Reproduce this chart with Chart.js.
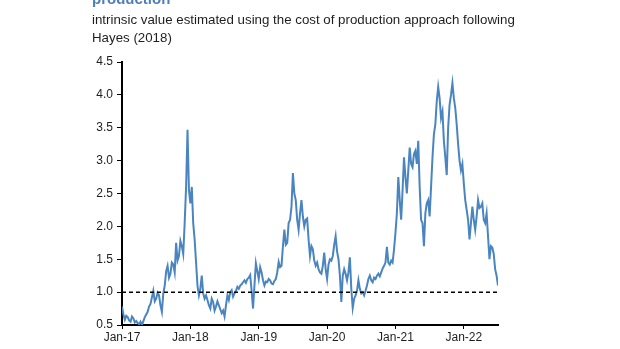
<!DOCTYPE html>
<html lang="en">

<head>
    <meta charset="UTF-8">
    <title>Intrinsic value - cost of production</title>
    <script src="https://cdn.jsdelivr.net/npm/chart.js@4/dist/chart.umd.min.js"></script>
    <style>
        html, body { margin: 0; padding: 0; background: #fff; }
        #wrap { position: relative; width: 620px; height: 349px; overflow: hidden; }
    </style>
</head>

<body>
    <div id="wrap">
        <canvas id="ratioChart" width="620" height="349"></canvas>
    </div>
    <script>
        // Ratio series, four readings per month starting Jan 2017
        const ratio2017 = [
            0.78, 0.66, 0.58, 0.64, 0.62, 0.57, 0.55, 0.63, 0.60, 0.54, 0.56, 0.53,
            0.51, 0.55, 0.50, 0.56, 0.62, 0.66, 0.70, 0.78, 0.82, 0.92, 1.02, 0.86,
            0.90, 0.99, 0.95, 0.80, 0.70, 0.98, 1.10, 1.32, 1.40, 1.22, 1.28, 1.45,
            1.42, 1.30, 1.75, 1.48, 1.55, 1.78, 1.70, 1.58, 2.05, 2.60, 3.47, 2.55
        ];
        const ratio2018 = [
            2.35, 2.60, 2.05, 1.80, 1.45, 1.10, 0.95, 1.05, 1.25, 0.98, 0.90, 0.95,
            0.88, 0.80, 0.75, 0.90, 0.85, 0.72, 0.78, 0.86, 0.80, 0.74, 0.68, 0.72,
            0.63, 0.80, 0.95, 0.88, 1.00, 1.03, 0.93, 0.98, 1.02, 1.08, 1.05, 1.10,
            1.12, 1.15, 1.18, 1.14, 1.20, 1.22, 1.26, 1.02, 0.75, 1.10, 1.44, 1.32
        ];
        const ratio2019 = [
            1.20, 1.38, 1.30, 1.18, 1.10, 1.16, 1.15, 1.20, 1.18, 1.13, 1.12, 1.17,
            1.20, 1.30, 1.46, 1.38, 1.40, 1.70, 1.95, 1.72, 1.75, 2.05, 2.10, 2.30,
            2.81, 2.50, 2.40, 2.10, 1.95, 2.20, 2.40, 2.15, 2.00, 2.10, 2.12, 1.80,
            1.55, 1.70, 1.65, 1.48, 1.40, 1.45, 1.35, 1.30, 1.28, 1.40, 1.60, 1.35
        ];
        const ratio2020 = [
            1.20, 1.42, 1.50, 1.48, 1.55, 1.72, 1.85, 1.62, 1.50, 1.25, 0.85, 1.25,
            1.35, 1.28, 1.18, 1.30, 1.53, 1.05, 0.76, 0.90, 0.95, 1.02, 1.18, 1.05,
            0.98, 1.00, 0.95, 1.02, 1.10, 1.20, 1.25, 1.18, 1.15, 1.22, 1.20, 1.25,
            1.28, 1.24, 1.30, 1.36, 1.40, 1.45, 1.69, 1.45, 1.42, 1.48, 1.45, 1.65
        ];
        const ratio2021 = [
            1.90, 2.20, 2.75, 2.40, 2.10, 2.55, 3.05, 2.75, 2.50, 2.85, 3.20, 2.95,
            2.90, 3.10, 3.15, 2.95, 3.30, 2.60, 2.10, 2.05, 1.70, 2.20, 2.35, 2.40,
            2.15, 2.60, 3.05, 3.40, 3.55, 3.90, 4.12, 3.95, 3.65, 3.75, 3.30, 3.05,
            2.78, 3.50, 3.85, 4.00, 4.18, 3.95, 3.80, 3.55, 3.25, 3.00, 2.85, 2.95
        ];
        const ratio2022 = [
            2.65, 2.40, 2.25, 2.10, 1.80, 2.05, 2.30, 2.10, 1.95, 2.15, 2.40, 2.28,
            2.30, 2.35, 2.10, 2.05, 2.20, 1.85, 1.50, 1.70, 1.68, 1.58, 1.35, 1.25,
            1.10
        ];
        const yearLabels = ['Jan-17', 'Jan-18', 'Jan-19', 'Jan-20', 'Jan-21', 'Jan-22'];
        const yTicks = [0.5, 1.0, 1.5, 2.0, 2.5, 3.0, 3.5, 4.0, 4.5];
        const parity = 1.0;

        const blue = '#4a85c0';
        const ink = '#1e1e1e';
        const font = 'Liberation Sans, Arial, sans-serif';

        const ratio = [].concat(ratio2017, ratio2018, ratio2019, ratio2020, ratio2021, ratio2022);
        // x is months since Jan 2017
        const points = ratio.map((v, i) => ({ x: i * 0.25, y: v }));
        const lastX = (ratio.length - 1) * 0.25;

        // heading text above the plot
        const header = {
            id: 'header',
            afterDraw(chart) {
                const ctx = chart.ctx;
                ctx.save();
                ctx.textAlign = 'left';
                ctx.textBaseline = 'alphabetic';
                ctx.fillStyle = '#4f7fb8';
                ctx.font = 'bold 15px ' + font;
                ctx.fillText('production', 92, 4);
                ctx.fillStyle = ink;
                ctx.font = '13.3px ' + font;
                ctx.fillText('intrinsic value estimated using the cost of production approach following', 92, 24);
                ctx.fillText('Hayes (2018)', 92, 42);
                ctx.restore();
            }
        };

        new Chart(document.getElementById('ratioChart'), {
            type: 'line',
            data: {
                datasets: [{
                    data: [{ x: 0, y: parity }, { x: lastX, y: parity }],
                    borderColor: '#000',
                    borderWidth: 1.5,
                    borderDash: [4, 3],
                    pointRadius: 0
                }, {
                    data: points,
                    borderColor: blue,
                    borderWidth: 2,
                    pointRadius: 0,
                    tension: 0
                }]
            },
            options: {
                responsive: false,
                animation: false,
                layout: { padding: { left: 88, right: 122, top: 62, bottom: 4 } },
                plugins: {
                    legend: { display: false },
                    tooltip: { enabled: false }
                },
                scales: {
                    x: {
                        type: 'linear',
                        min: 0,
                        max: lastX,
                        afterFit: s => { s.height = 20; },
                        afterBuildTicks: s => { s.ticks = yearLabels.map((_, i) => ({ value: i * 12 })); },
                        border: { display: true, color: '#000', width: 2 },
                        grid: { drawOnChartArea: false, drawTicks: true, tickLength: 4, color: '#000' },
                        ticks: {
                            padding: 1,
                            maxRotation: 0,
                            color: ink,
                            font: { family: font, size: 12 },
                            callback: v => yearLabels[Math.round(v / 12)]
                        }
                    },
                    y: {
                        min: 0.5,
                        max: 4.5,
                        afterFit: s => { s.width = 34; },
                        afterBuildTicks: s => { s.ticks = yTicks.map(v => ({ value: v })); },
                        border: { display: true, color: '#000', width: 2 },
                        grid: { drawOnChartArea: false, drawTicks: true, tickLength: 5, color: '#000' },
                        ticks: {
                            padding: 4,
                            color: ink,
                            font: { family: font, size: 12 },
                            callback: v => v.toFixed(1)
                        }
                    }
                }
            },
            plugins: [header]
        });
    </script>
</body>

</html>
